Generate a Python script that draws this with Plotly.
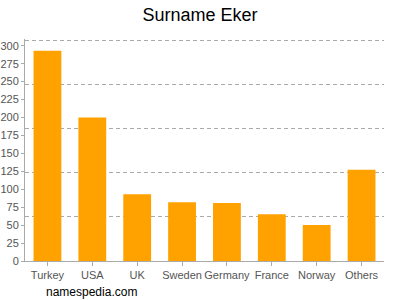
import plotly.graph_objects as go

categories = ["Turkey", "USA", "UK", "Sweden", "Germany", "France", "Norway", "Others"]
values = [293, 200, 93, 82, 81, 65, 50, 127]
y_ticks = [0, 25, 50, 75, 100, 125, 150, 175, 200, 225, 250, 275, 300]
y_max = 308

fig = go.Figure()
fig.add_trace(go.Bar(x=categories, y=values, marker=dict(color="#FFA200", line=dict(width=0)),
                     hoverinfo="skip"))
# invisible trace to carry the evenly spaced dashed gridlines
fig.add_trace(go.Scatter(x=categories, y=[0] * len(categories), yaxis="y2", mode="markers",
                         marker=dict(opacity=0), hoverinfo="skip", showlegend=False))

fig.update_layout(
    width=400, height=300,
    margin=dict(l=24.5, r=15.5, t=38.5, b=39),
    paper_bgcolor="white", plot_bgcolor="white",
    showlegend=False,
    bargap=0.38,
    title=dict(text="Surname Eker", x=0.5, xanchor="center", y=0.95, yanchor="middle",
               font=dict(family="Liberation Sans, Arial", size=18, color="#000")),
    font=dict(family="Liberation Sans, Arial", size=11, color="#555"),
    xaxis=dict(showline=True, linecolor="#aaa", linewidth=1, ticks="outside", ticklen=4,
               tickcolor="#aaa", showgrid=False, tickangle=0, automargin=False,
               tickfont=dict(size=11, color="#555")),
    yaxis=dict(range=[0, y_max * 1.0045], tickvals=y_ticks, showline=True, linecolor="#aaa", linewidth=1,
               ticks="outside", ticklen=3, tickcolor="#aaa", showgrid=False, zeroline=False,
               automargin=False, tickfont=dict(size=11, color="#555")),
    yaxis2=dict(overlaying="y", range=[0, 5.03], dtick=1, showgrid=True, gridcolor="#aaa",
                griddash="4px,3px", gridwidth=1, showticklabels=False, zeroline=False, showline=False,
                automargin=False),
    annotations=[dict(text="namespedia.com", xref="paper", yref="paper", x=0.054, y=-0.097,
                      xanchor="left", yanchor="top", showarrow=False,
                      font=dict(family="Liberation Sans, Arial", size=12, color="#000"))],
)
fig.write_html("out.html")
